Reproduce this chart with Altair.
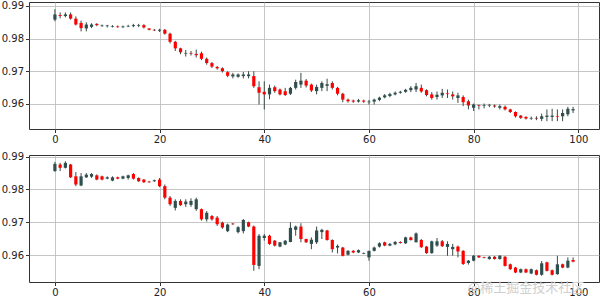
import altair as alt
import pandas as pd

# ---------- panel 1 ----------
open1 = [0.9858,0.9872,0.9869,0.9874,0.9861,0.9848,0.9831,0.9836,0.9845,0.9838,
         0.9838,0.9836,0.9837,0.9835,0.9837,0.9838,0.9839,0.9841,0.9831,0.9827,
         0.9824,0.9827,0.9815,0.9790,0.9770,0.9754,0.9756,0.9753,0.9755,0.9738,
         0.9725,0.9713,0.9709,0.9697,0.9684,0.9683,0.9685,0.9685,0.9685,0.9651,
         0.9637,0.9629,0.9651,0.9644,0.9639,0.9631,0.9649,0.9659,0.9671,0.9659,
         0.9639,0.9649,0.9655,0.9664,0.9649,0.9631,0.9613,0.9610,0.9607,0.9610,
         0.9605,0.9607,0.9612,0.9620,0.9624,0.9629,0.9634,0.9637,0.9642,0.9644,
         0.9649,0.9642,0.9629,0.9621,0.9626,0.9632,0.9629,0.9618,0.9621,0.9608,
         0.9588,0.9596,0.9594,0.9595,0.9595,0.9588,0.9591,0.9583,0.9575,0.9564,
         0.9560,0.9555,0.9557,0.9554,0.9560,0.9560,0.9563,0.9562,0.9568,0.9580]
close1 = [0.9874,0.9869,0.9874,0.9861,0.9843,0.9832,0.9843,0.9843,0.9841,0.9840,
          0.9840,0.9838,0.9835,0.9837,0.9839,0.9841,0.9841,0.9834,0.9827,0.9825,
          0.9827,0.9815,0.9790,0.9770,0.9758,0.9756,0.9754,0.9749,0.9738,0.9725,
          0.9714,0.9709,0.9700,0.9686,0.9690,0.9690,0.9690,0.9690,0.9654,0.9634,
          0.9629,0.9649,0.9639,0.9629,0.9627,0.9649,0.9667,0.9671,0.9656,0.9641,
          0.9652,0.9664,0.9660,0.9649,0.9631,0.9613,0.9608,0.9607,0.9611,0.9607,
          0.9607,0.9613,0.9619,0.9626,0.9630,0.9634,0.9637,0.9643,0.9649,0.9654,
          0.9638,0.9627,0.9618,0.9628,0.9634,0.9630,0.9623,0.9626,0.9605,0.9595,
          0.9598,0.9594,0.9596,0.9597,0.9592,0.9593,0.9583,0.9575,0.9562,0.9557,
          0.9555,0.9557,0.9555,0.9562,0.9564,0.9564,0.9561,0.9572,0.9585,0.9584]
high1 = [0.9890,0.9880,0.9880,0.9880,0.9868,0.9855,0.9850,0.9847,0.9847,0.9843,
         0.9842,0.9841,0.9840,0.9840,0.9842,0.9845,0.9845,0.9844,0.9832,0.9829,
         0.9830,0.9829,0.9818,0.9793,0.9772,0.9765,0.9762,0.9766,0.9760,0.9742,
         0.9728,0.9716,0.9712,0.9700,0.9695,0.9693,0.9698,0.9700,0.9700,0.9669,
         0.9669,0.9659,0.9656,0.9647,0.9649,0.9652,0.9674,0.9695,0.9676,0.9662,
         0.9659,0.9669,0.9677,0.9669,0.9652,0.9634,0.9616,0.9613,0.9615,0.9613,
         0.9612,0.9616,0.9622,0.9630,0.9634,0.9638,0.9640,0.9646,0.9654,0.9664,
         0.9659,0.9645,0.9636,0.9638,0.9646,0.9644,0.9638,0.9634,0.9626,0.9613,
         0.9601,0.9598,0.9601,0.9600,0.9598,0.9598,0.9595,0.9585,0.9577,0.9566,
         0.9562,0.9561,0.9562,0.9570,0.9583,0.9585,0.9583,0.9583,0.9591,0.9591]
low1 = [0.9853,0.9862,0.9865,0.9858,0.9840,0.9822,0.9822,0.9832,0.9838,0.9836,
        0.9834,0.9834,0.9833,0.9832,0.9835,0.9835,0.9835,0.9831,0.9825,0.9823,
        0.9820,0.9812,0.9785,0.9762,0.9752,0.9745,0.9748,0.9742,0.9734,0.9720,
        0.9710,0.9705,0.9696,0.9682,0.9678,0.9680,0.9678,0.9678,0.9649,0.9598,
        0.9583,0.9614,0.9634,0.9626,0.9624,0.9627,0.9644,0.9649,0.9650,0.9636,
        0.9629,0.9639,0.9639,0.9644,0.9626,0.9605,0.9604,0.9603,0.9604,0.9603,
        0.9598,0.9598,0.9608,0.9617,0.9620,0.9626,0.9631,0.9634,0.9636,0.9636,
        0.9634,0.9623,0.9613,0.9613,0.9618,0.9618,0.9613,0.9603,0.9593,0.9583,
        0.9578,0.9583,0.9586,0.9590,0.9588,0.9583,0.9580,0.9572,0.9558,0.9554,
        0.9552,0.9551,0.9550,0.9547,0.9547,0.9547,0.9547,0.9547,0.9562,0.9572]

# ---------- panel 2 ----------
open2 = [0.9856,0.9876,0.9866,0.9876,0.9840,0.9812,0.9837,0.9839,0.9843,0.9840,
         0.9833,0.9827,0.9837,0.9833,0.9835,0.9847,0.9835,0.9830,0.9824,0.9825,
         0.9830,0.9810,0.9775,0.9744,0.9765,0.9755,0.9753,0.9740,0.9740,0.9709,
         0.9719,0.9714,0.9699,0.9673,0.9696,0.9670,0.9673,0.9700,0.9687,0.9567,
         0.9652,0.9659,0.9644,0.9626,0.9632,0.9640,0.9677,0.9687,0.9649,0.9634,
         0.9639,0.9670,0.9675,0.9646,0.9623,0.9623,0.9601,0.9613,0.9608,0.9604,
         0.9593,0.9613,0.9626,0.9639,0.9629,0.9633,0.9640,0.9636,0.9654,0.9639,
         0.9646,0.9626,0.9606,0.9629,0.9642,0.9625,0.9618,0.9626,0.9613,0.9576,
         0.9583,0.9598,0.9594,0.9588,0.9595,0.9588,0.9595,0.9572,0.9562,0.9547,
         0.9557,0.9544,0.9554,0.9540,0.9578,0.9554,0.9542,0.9572,0.9562,0.9585]
close2 = [0.9878,0.9866,0.9881,0.9837,0.9815,0.9840,0.9845,0.9847,0.9830,0.9830,
          0.9837,0.9837,0.9833,0.9840,0.9843,0.9833,0.9825,0.9822,0.9822,0.9828,
          0.9810,0.9775,0.9755,0.9765,0.9752,0.9763,0.9765,0.9770,0.9709,0.9729,
          0.9709,0.9694,0.9684,0.9693,0.9694,0.9685,0.9707,0.9687,0.9570,0.9659,
          0.9659,0.9634,0.9629,0.9639,0.9644,0.9683,0.9687,0.9649,0.9639,0.9647,
          0.9675,0.9677,0.9646,0.9618,0.9628,0.9598,0.9613,0.9608,0.9615,0.9606,
          0.9613,0.9623,0.9636,0.9629,0.9634,0.9640,0.9637,0.9654,0.9646,0.9666,
          0.9624,0.9606,0.9642,0.9642,0.9627,0.9634,0.9625,0.9611,0.9573,0.9583,
          0.9598,0.9593,0.9592,0.9595,0.9588,0.9598,0.9567,0.9557,0.9547,0.9557,
          0.9547,0.9557,0.9540,0.9575,0.9552,0.9540,0.9572,0.9562,0.9583,0.9580]
high2 = [0.9884,0.9881,0.9886,0.9878,0.9853,0.9850,0.9850,0.9850,0.9846,0.9842,
         0.9840,0.9840,0.9839,0.9842,0.9845,0.9850,0.9837,0.9832,0.9826,0.9830,
         0.9835,0.9815,0.9780,0.9770,0.9770,0.9770,0.9773,0.9775,0.9742,0.9734,
         0.9722,0.9719,0.9702,0.9696,0.9698,0.9688,0.9710,0.9702,0.9690,0.9664,
         0.9664,0.9662,0.9646,0.9640,0.9646,0.9700,0.9690,0.9697,0.9650,0.9654,
         0.9687,0.9680,0.9677,0.9648,0.9632,0.9625,0.9615,0.9615,0.9617,0.9608,
         0.9613,0.9626,0.9639,0.9641,0.9637,0.9643,0.9642,0.9656,0.9656,0.9669,
         0.9649,0.9628,0.9644,0.9652,0.9646,0.9642,0.9634,0.9629,0.9615,0.9585,
         0.9600,0.9599,0.9595,0.9597,0.9597,0.9600,0.9597,0.9574,0.9564,0.9559,
         0.9559,0.9559,0.9556,0.9582,0.9580,0.9556,0.9598,0.9574,0.9593,0.9593]
low2 = [0.9854,0.9856,0.9864,0.9835,0.9810,0.9810,0.9835,0.9835,0.9828,0.9828,
        0.9831,0.9825,0.9831,0.9831,0.9830,0.9830,0.9823,0.9820,0.9820,0.9823,
        0.9807,0.9770,0.9750,0.9736,0.9750,0.9747,0.9747,0.9735,0.9705,0.9702,
        0.9705,0.9689,0.9680,0.9670,0.9692,0.9666,0.9666,0.9685,0.9552,0.9557,
        0.9644,0.9631,0.9626,0.9624,0.9630,0.9639,0.9659,0.9639,0.9637,0.9618,
        0.9634,0.9649,0.9644,0.9608,0.9605,0.9596,0.9599,0.9606,0.9606,0.9603,
        0.9583,0.9611,0.9623,0.9627,0.9627,0.9630,0.9635,0.9634,0.9644,0.9639,
        0.9622,0.9604,0.9604,0.9625,0.9625,0.9598,0.9598,0.9593,0.9570,0.9571,
        0.9581,0.9591,0.9590,0.9586,0.9586,0.9586,0.9565,0.9555,0.9545,0.9545,
        0.9545,0.9542,0.9538,0.9537,0.9550,0.9538,0.9540,0.9560,0.9560,0.9578]

x_ticks = [0, 20, 40, 60, 80, 100]
y_ticks = [0.96, 0.97, 0.98, 0.99]
watermark = "@稀土掘金技术社区"

UP = "#2F4F4F"
DOWN = "#FF0000"
WICK = "#3a4a44"


def frame(o, c, h, l):
    return pd.DataFrame({
        "i": list(range(len(o))),
        "open": o, "close": c, "high": h, "low": l,
        "dir": ["up" if cc >= oo else "down" for oo, cc in zip(o, c)],
    })


def panel(df, ydom, extra=None):
    xscale = alt.Scale(domain=[-4.95, 103.95], nice=False, zero=False, padding=0)
    xaxis = alt.Axis(values=x_ticks, title=None, grid=True, format="d")
    col = alt.Color("dir:N", scale=alt.Scale(domain=["up", "down"], range=[UP, DOWN]), legend=None)
    yscale = alt.Scale(domain=ydom, nice=False, zero=False, padding=0)
    yaxis = alt.Axis(values=y_ticks, format=".2f", title=None, grid=True)
    base = alt.Chart(df)
    wick = base.mark_rule(strokeWidth=1, color=WICK).encode(
        x=alt.X("i:Q", scale=xscale, axis=xaxis),
        y=alt.Y("low:Q", scale=yscale, axis=yaxis), y2="high:Q")
    body = base.mark_bar(size=3.2).encode(
        x=alt.X("i:Q", scale=xscale, axis=xaxis),
        y=alt.Y("open:Q", scale=yscale, axis=yaxis), y2="close:Q", color=col)
    layers = [wick, body]
    if extra is not None:
        layers.append(extra)
    return alt.layer(*layers).properties(width=570, height=127)


df1 = frame(open1, close1, high1, low1)
df2 = frame(open2, close2, high2, low2)

wm = alt.Chart(pd.DataFrame({"t": [watermark]})).mark_text(
    font="Noto Sans CJK SC", fontSize=13, color="#cfcfcf", align="center", baseline="middle"
).encode(x=alt.value(497), y=alt.value(133), text="t:N")

top = panel(df1, [0.9523, 0.9912])
bottom = panel(df2, [0.9518, 0.9905], extra=wm)

chart = alt.vconcat(top, bottom, spacing=6).properties(
    padding={"left": 0, "top": 0, "right": 0, "bottom": 0}
).configure_view(
    stroke="#333333", strokeWidth=1
).configure_axis(
    domain=False, gridColor="#b8b8b8", gridWidth=0.8,
    labelFont="DejaVu Sans", labelFontSize=10, labelColor="#222222",
    tickColor="#333333", tickSize=3.5, labelPadding=2
)

chart.save("out.html", embed_options={"renderer": "svg", "actions": False})
